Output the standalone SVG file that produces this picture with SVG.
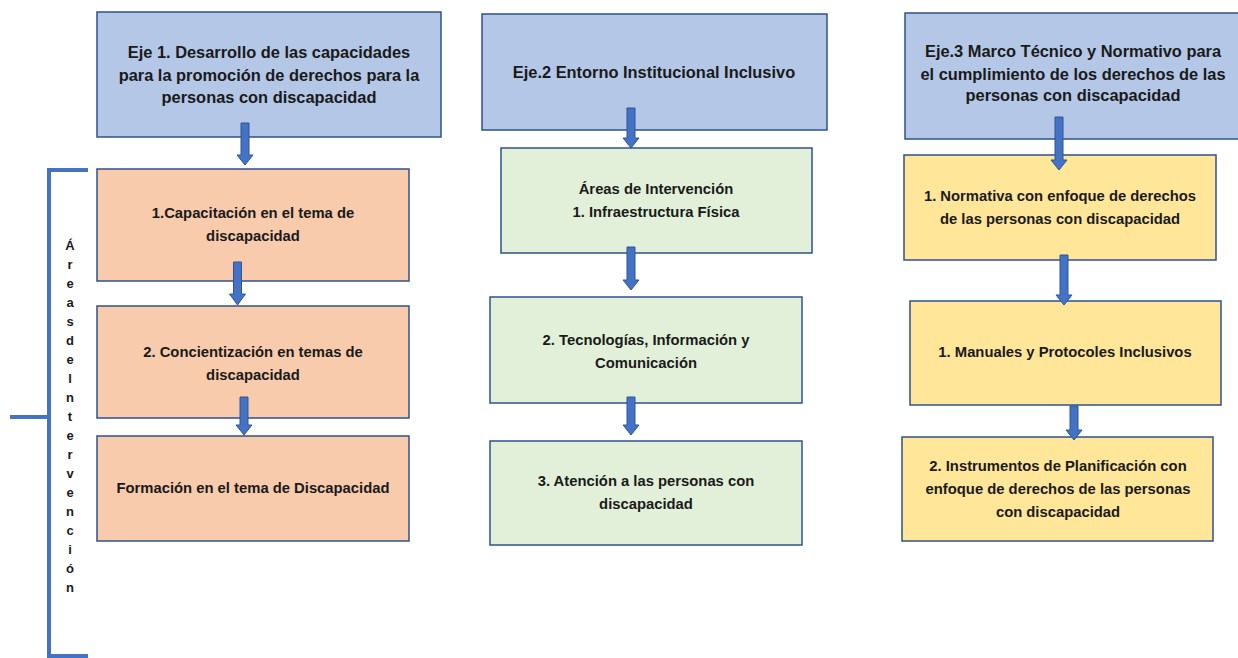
<svg xmlns="http://www.w3.org/2000/svg" width="1238" height="658" viewBox="0 0 1238 658">
<style>
.box{stroke:#2F528F;stroke-width:1.5}
.eje{fill:#B4C7E7}
.org{fill:#F8CBAD}
.grn{fill:#E2F0D9}
.yel{fill:#FFE699}
text{font-family:"Liberation Sans",Arial,sans-serif;font-weight:bold;fill:#1a1a1a;text-anchor:middle}
.h{font-size:16.4px}
.t{font-size:14.8px}
.v{font-size:13px}
.arrow{fill:#4472C4;stroke:#2F5597;stroke-width:1}
.br{fill:none;stroke:#4472C4;stroke-width:4}
</style>
<rect width="1238" height="658" fill="#fff"/>

<g id="bracket">
<path class="br" d="M88 170 H49 V656 H88 M49 417 H10"/>
</g>
<g id="bracket-label" class="v">
<text x="70" y="250">Á</text>
<text x="70" y="269">r</text>
<text x="70" y="288">e</text>
<text x="70" y="307">a</text>
<text x="70" y="326">s</text>
<text x="70" y="345">d</text>
<text x="70" y="364">e</text>
<text x="70" y="383">l</text>
<text x="70" y="402">n</text>
<text x="70" y="421">t</text>
<text x="70" y="440">e</text>
<text x="70" y="459">r</text>
<text x="70" y="478">v</text>
<text x="70" y="497">e</text>
<text x="70" y="516">n</text>
<text x="70" y="535">c</text>
<text x="70" y="554">i</text>
<text x="70" y="573">ó</text>
<text x="70" y="592">n</text>
</g>

<g id="eje1">
<rect class="box eje" x="97" y="12" width="344" height="125"/>
<text class="h" x="269" y="58">Eje 1. Desarrollo de las capacidades</text>
<text class="h" x="269" y="81">para la promoción de derechos para la</text>
<text class="h" x="269" y="103">personas con discapacidad</text>
</g>
<g id="c1n1">
<rect class="box org" x="97" y="169" width="312" height="112"/>
<text class="t" x="253" y="218">1.Capacitación en el tema de</text>
<text class="t" x="253" y="241">discapacidad</text>
</g>
<g id="c1n2">
<rect class="box org" x="97" y="306" width="312" height="112"/>
<text class="t" x="253" y="357">2. Concientización en temas de</text>
<text class="t" x="253" y="380">discapacidad</text>
</g>
<g id="c1n3">
<rect class="box org" x="97" y="436" width="312" height="105"/>
<text class="t" x="253" y="493">Formación en el tema de Discapacidad</text>
</g>

<g id="eje2">
<rect class="box eje" x="482" y="14" width="345" height="116"/>
<text class="h" x="654" y="78">Eje.2 Entorno Institucional Inclusivo</text>
</g>
<g id="c2n1">
<rect class="box grn" x="501" y="148" width="311" height="105"/>
<text class="t" x="656" y="194">Áreas de Intervención</text>
<text class="t" x="656" y="217">1. Infraestructura Física</text>
</g>
<g id="c2n2">
<rect class="box grn" x="490" y="297" width="312" height="106"/>
<text class="t" x="646" y="345">2. Tecnologías, Información y</text>
<text class="t" x="646" y="368">Comunicación</text>
</g>
<g id="c2n3">
<rect class="box grn" x="490" y="441" width="312" height="104"/>
<text class="t" x="646" y="486">3. Atención a las personas con</text>
<text class="t" x="646" y="509">discapacidad</text>
</g>

<g id="eje3">
<rect class="box eje" x="905" y="13" width="340" height="126"/>
<text class="h" x="1073" y="57">Eje.3 Marco Técnico y Normativo para</text>
<text class="h" x="1073" y="80">el cumplimiento de los derechos de las</text>
<text class="h" x="1073" y="101">personas con discapacidad</text>
</g>
<g id="c3n1">
<rect class="box yel" x="904" y="155" width="312" height="105"/>
<text class="t" x="1060" y="201">1. Normativa con enfoque de derechos</text>
<text class="t" x="1060" y="224">de las personas con discapacidad</text>
</g>
<g id="c3n2">
<rect class="box yel" x="910" y="301" width="311" height="104"/>
<text class="t" x="1065" y="357">1. Manuales y Protocoles Inclusivos</text>
</g>
<g id="c3n3">
<rect class="box yel" x="902" y="437" width="311" height="104"/>
<text class="t" x="1058" y="471">2. Instrumentos de Planificación con</text>
<text class="t" x="1058" y="494">enfoque de derechos de las personas</text>
<text class="t" x="1058" y="517">con discapacidad</text>
</g>

<g id="connectors">
<path class="arrow" d="M241 123 H249 V155 H253 L245 165 L237 155 H241 Z"/>
<path class="arrow" d="M233.5 262 H241.5 V294 H245.5 L237.5 305 L229.5 294 H233.5 Z"/>
<path class="arrow" d="M240 397 H248 V425 H252 L244 435 L236 425 H240 Z"/>
<path class="arrow" d="M627 108 H635 V138 H639 L631 148 L623 138 H627 Z"/>
<path class="arrow" d="M627 247 H635 V280 H639 L631 290 L623 280 H627 Z"/>
<path class="arrow" d="M627 397 H635 V425 H639 L631 435 L623 425 H627 Z"/>
<path class="arrow" d="M1055 117 H1063 V160 H1067 L1059 170 L1051 160 H1055 Z"/>
<path class="arrow" d="M1060 255 H1068 V295 H1072 L1064 305 L1056 295 H1060 Z"/>
<path class="arrow" d="M1070 406 H1078 V430 H1082 L1074 440 L1066 430 H1070 Z"/>
</g>
</svg>
